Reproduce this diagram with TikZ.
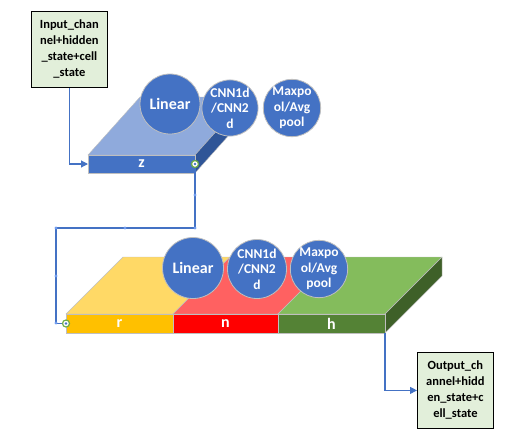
\documentclass[tikz,border=0pt]{standalone}
\usepackage{fontspec}
\setmainfont{Carlito}
\usetikzlibrary{arrows.meta,positioning}

\definecolor{boxgreen}{HTML}{E2EFDA}
\definecolor{linkblue}{HTML}{4472C4}
\definecolor{dotblue}{HTML}{6F9BEF}
\definecolor{ztop}{HTML}{8FAADC}
\definecolor{zfront}{HTML}{4472C4}
\definecolor{zside}{HTML}{2F5597}
\definecolor{rtop}{HTML}{FFD966}
\definecolor{rfront}{HTML}{FFC000}
\definecolor{ntop}{HTML}{FF6161}
\definecolor{nfront}{HTML}{FF0000}
\definecolor{htop}{HTML}{84BC5C}
\definecolor{hfront}{HTML}{548235}
\definecolor{hside}{HTML}{3E6028}
\definecolor{markgreen}{HTML}{70AD47}

\tikzset{
  iobox/.style={draw=black, fill=boxgreen, thick, align=center, inner sep=0pt,
    minimum width=76pt, minimum height=76pt, font=\fontsize{12.5}{16}\selectfont\bfseries},
  front/.style={draw=black!25, thin, inner sep=0pt, outer sep=0pt, anchor=north west,
    minimum height=18pt, text=white, font=\fontsize{16}{16}\selectfont\bfseries},
  face/.style={draw=black!25, thin},
  op/.style={circle, draw=black!25, thick, fill=linkblue, text=white, inner sep=0pt,
    align=center, font=\fontsize{13.5}{15.5}\selectfont\bfseries},
  link/.style={draw=linkblue, line width=1.1pt},
  handle/.style={fill=dotblue, draw=none},
  endmark/.style={circle, draw=markgreen, line width=1.2pt, fill=white, inner sep=0pt,
    minimum size=7pt, path picture={\fill[linkblue] (path picture bounding box.center) circle (1.4pt);}}
}

\begin{document}
\begin{tikzpicture}[x=1pt, y=-1pt]
\useasboundingbox (0,0) rectangle (524,445);
\def \zleft {88}
\def \zright {195}
\def \zfronty {155}
\def \bleft {66}
\def \bfronty {314}

%Input and output boxes
\node[iobox, anchor=north west] (inbox) at (31,11) {Input\_chan\\nel+hidden\\\_state+cell\\\_state};
\node[iobox, anchor=north west] (outbox) at (417,352) {Output\_ch\\annel+hidd\\en\_state+c\\ell\_state};

%Upper slab
\filldraw[face, fill=ztop] (\zleft,\zfronty) -- ++(52,-58) -- ++(107,0) -- (\zright,\zfronty) -- cycle;
\filldraw[face, fill=zside] (\zright,\zfronty) -- ++(52,-58) -- ++(0,18) -- ++(-52,58) -- cycle;
\node[front, fill=zfront, minimum width=107pt] (z) at (\zleft,\zfronty) {z};

%Lower slab
\filldraw[face, fill=rtop] (\bleft,\bfronty) -- ++(57,-57) -- ++(107,0) -- ++(-57,57) -- cycle;
\filldraw[face, fill=ntop] (173,\bfronty) -- ++(57,-57) -- ++(105,0) -- ++(-57,57) -- cycle;
\filldraw[face, fill=htop] (278,\bfronty) -- ++(57,-57) -- ++(107,0) -- ++(-57,57) -- cycle;
\filldraw[face, fill=hside] (385,\bfronty) -- ++(57,-57) -- ++(0,19) -- ++(-57,57) -- cycle;
\node[front, fill=rfront, minimum width=107pt, minimum height=19pt] (r) at (\bleft,\bfronty) {r};
\node[front, fill=nfront, minimum width=105pt, minimum height=19pt] (n) at (173,\bfronty) {n};
\node[front, fill=hfront, minimum width=107pt, minimum height=19pt] (h) at (278,\bfronty) {h};

%Operations on the upper slab
\node[op, minimum size=60pt, font=\fontsize{16}{16}\selectfont\bfseries] (linz) at (170,104) {Linear};
\node[op, minimum size=51pt] (cnnz) at (230,108) {CNN1d\\/CNN2\\d};
\node[op, minimum size=49pt] (poolz) at (292,108) {Maxpo\\ol/Avg\\pool};

%Operations on the lower slab
\node[op, minimum size=61pt, font=\fontsize{16}{16}\selectfont\bfseries] (linb) at (193,268) {Linear};
\node[op, minimum size=59pt] (cnnb) at (257,269) {CNN1d\\/CNN2\\d};
\node[op, minimum size=57pt] (poolb) at (319,269) {Maxpo\\ol/Avg\\pool};

%Connectors
\coordinate (bend) at (56,228);
\draw[link, -{Triangle[length=7pt, width=7pt]}] (inbox.south) |- (z.west);
\draw[link] (z.east) |- (bend) |- (r.west);
\draw[link, -{Triangle[length=7pt, width=7pt]}] (h.south east) |- (outbox.west);

%Connector handles
\foreach \hx/\hy in {195/195, 195/228, 125/228, 56/228, 56/276, 56/323}
  \fill[handle] (\hx,\hy) circle (1.6pt);
\node[endmark] at (z.east) {};
\node[endmark] at (r.west) {};
\end{tikzpicture}
\end{document}
